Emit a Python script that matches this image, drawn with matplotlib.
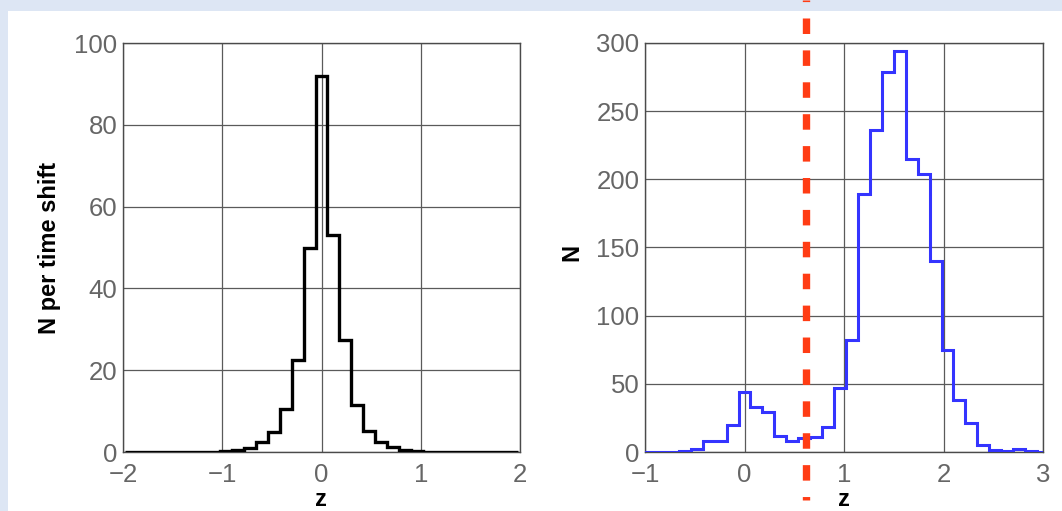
import numpy as np
import matplotlib
matplotlib.use('Agg')
import matplotlib.pyplot as plt
from matplotlib.lines import Line2D
from matplotlib.patches import Rectangle
from matplotlib.transforms import blended_transform_factory

# left panel: N per time shift, bins of 0.12 centred on multiples of 0.12
bin_width = 0.12
left_centers = np.arange(-16, 17) * bin_width
left_counts = [0, 0, 0, 0, 0, 0, 0, 0,
               0.2, 0.5, 0.9, 2.4, 5, 10.4, 22.5, 50,
               92,
               53, 27.4, 11.6, 5.1, 2.4, 1.2, 0.5, 0.2,
               0, 0, 0, 0, 0, 0, 0, 0]

# right panel: N
right_centers = np.arange(-8, 26) * bin_width
right_counts = [0, 0, 0, 1, 2, 8, 8, 20, 44, 33, 29, 12, 8, 10, 11, 18,
                47, 82, 189, 236, 279, 294, 215, 204, 140, 75, 38, 21,
                5, 1.5, 0.5, 2.5, 0.5, 0]

cut_z = 0.62

left_xticks = [-2, -1, 0, 1, 2]
left_yticks = [0, 20, 40, 60, 80, 100]
right_xticks = [-1, 0, 1, 2, 3]
right_yticks = [0, 50, 100, 150, 200, 250, 300]

plt.rcParams['font.family'] = ['Liberation Sans', 'DejaVu Sans']
W, H = 1062, 511
fig = plt.figure(figsize=(W / 100, H / 100), dpi=100)
fig.patch.set_facecolor('#dde6f4')
fig.add_artist(Rectangle((8 / W, 0), 1 - 8 / W, 1 - 11 / H,
                         transform=fig.transFigure, facecolor='white',
                         edgecolor='none', zorder=0))

ax1 = fig.add_axes([123 / W, (H - 452) / H, 397 / W, 409 / H])
ax2 = fig.add_axes([645 / W, (H - 452) / H, 398 / W, 409 / H])


def edges_of(centers):
    return np.append(centers - bin_width / 2, centers[-1] + bin_width / 2)


ax1.stairs(left_counts, edges_of(left_centers), baseline=None,
           color='black', lw=2.4, zorder=3)
ax2.stairs(right_counts, edges_of(right_centers), baseline=None,
           color='#3434ff', lw=2.2, zorder=3)

for ax, xt, yt in [(ax1, left_xticks, left_yticks),
                   (ax2, right_xticks, right_yticks)]:
    ax.set_xlim(xt[0], xt[-1])
    ax.set_ylim(yt[0], yt[-1])
    ax.set_xticks(xt)
    ax.set_yticks(yt)
    ax.set_facecolor('white')
    ax.grid(True, color='#5a5a5a', lw=0.9)
    ax.set_axisbelow(True)
    for s in ax.spines.values():
        s.set_color('#4a4a4a')
        s.set_linewidth(1.0)
    ax.tick_params(length=0, labelsize=18.5, labelcolor='#666666')
    ax.tick_params(axis='x', pad=8)
    ax.tick_params(axis='y', pad=4)

fig.text(50 / W, 1 - 248 / H, 'N per time shift', rotation=90,
         ha='center', va='center', fontsize=17, fontweight='bold')
fig.text(572 / W, 1 - 252 / H, 'N', rotation=90,
         ha='center', va='center', fontsize=17, fontweight='bold')
fig.text(321 / W, 1 - 506 / H, 'z', ha='center', va='baseline',
         fontsize=17, fontweight='bold')
fig.text(844 / W, 1 - 506 / H, 'z', ha='center', va='baseline',
         fontsize=17, fontweight='bold')

# dashed red cut running across the whole figure height
trans = blended_transform_factory(ax2.transData, fig.transFigure)
lw = 5.3
fig.add_artist(Line2D([cut_z, cut_z], [1.0, 1 - 499.5 / H], transform=trans,
                      color='#ff3c14', lw=lw, solid_capstyle='butt',
                      dash_capstyle='butt',
                      linestyle=(1.89, (2.106, 2.228)), zorder=10))

fig.savefig('out.png', dpi=100, facecolor=fig.get_facecolor())
